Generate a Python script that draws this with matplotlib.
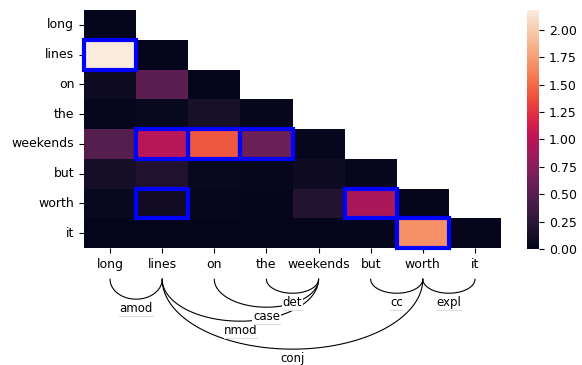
import numpy as np
import matplotlib
matplotlib.use("Agg")
import matplotlib.pyplot as plt
import seaborn as sns
from matplotlib.patches import Rectangle

WORDS = ["long", "lines", "on", "the", "weekends", "but", "worth", "it"]

# lower-triangular scores, one row per word
SCORES = [
    [0.02],
    [2.18, 0.02],
    [0.08, 0.52, 0.02],
    [0.03, 0.05, 0.14, 0.03],
    [0.48, 0.98, 1.42, 0.60, 0.03],
    [0.12, 0.18, 0.05, 0.03, 0.08, 0.03],
    [0.05, 0.10, 0.03, 0.02, 0.20, 0.92, 0.02],
    [0.01, 0.01, 0.01, 0.01, 0.02, 0.02, 1.68, 0.02],
]

# dependency arcs: head index, dependent index, relation
HEADS = [1, 4, 4, 1, 1, 6, 6]
DEPS = [0, 3, 2, 4, 6, 5, 7]
RELATIONS = ["amod", "det", "case", "nmod", "conj", "cc", "expl"]

n = len(WORDS)
matrix = np.full((n, n), np.nan)
for i, row in enumerate(SCORES):
    matrix[i, :len(row)] = row
mask = np.triu(np.ones((n, n), dtype=bool), k=1)

fig = plt.figure(figsize=(5.82, 3.65), dpi=100)
ax = fig.add_axes([84 / 582, 1 - 248 / 365, 417 / 582, 238 / 365])
cax = fig.add_axes([527 / 582, 1 - 249 / 365, 12 / 582, 239 / 365])

sns.heatmap(matrix, mask=mask, ax=ax, cbar_ax=cax, vmin=0,
            xticklabels=WORDS, yticklabels=WORDS)
ax.tick_params(labelsize=9)
ax.set_yticklabels(WORDS, rotation=0)
ax.set_xticklabels(WORDS, rotation=0)
cax.tick_params(labelsize=9)

# outline the cell belonging to each dependency pair
for h, d in zip(HEADS, DEPS):
    r, c = max(h, d), min(h, d)
    ax.add_patch(Rectangle((c, r), 1, 1, fill=False, edgecolor="blue",
                           lw=3, clip_on=False, zorder=5))

# arcs below the words
y0 = 9.05
depth_step = 0.47
t = np.linspace(0, np.pi, 80)
labels = []
for h, d, rel in zip(HEADS, DEPS, RELATIONS):
    a, b = sorted((h, d))
    cx = (a + b) / 2 + 0.5
    half = (b - a) / 2
    depth = depth_step * (b - a)
    if b - a == 1 and a == 0:
        depth += 0.2
    ax.plot(cx + half * np.cos(t), y0 + depth * np.sin(t),
            color="black", lw=0.8, clip_on=False, zorder=3)
    labels.append(ax.text(cx, y0 + depth + 0.32, rel, ha="center",
                          va="center", fontsize=8.5, clip_on=False, zorder=4,
                          bbox=dict(boxstyle="square,pad=0.05", fc="white",
                                    ec="none")))

# faint underline beneath each relation label
fig.canvas.draw()
inv = ax.transData.inverted()
for txt in labels:
    ext = txt.get_window_extent()
    (x1, yb), (x2, _) = inv.transform([(ext.x0, ext.y0 - 1),
                                       (ext.x1, ext.y0 - 1)])
    ax.plot([x1, x2], [yb, yb], color="#dddddd", lw=0.8,
            clip_on=False, zorder=4.5)

fig.savefig("out.png", dpi=100)
